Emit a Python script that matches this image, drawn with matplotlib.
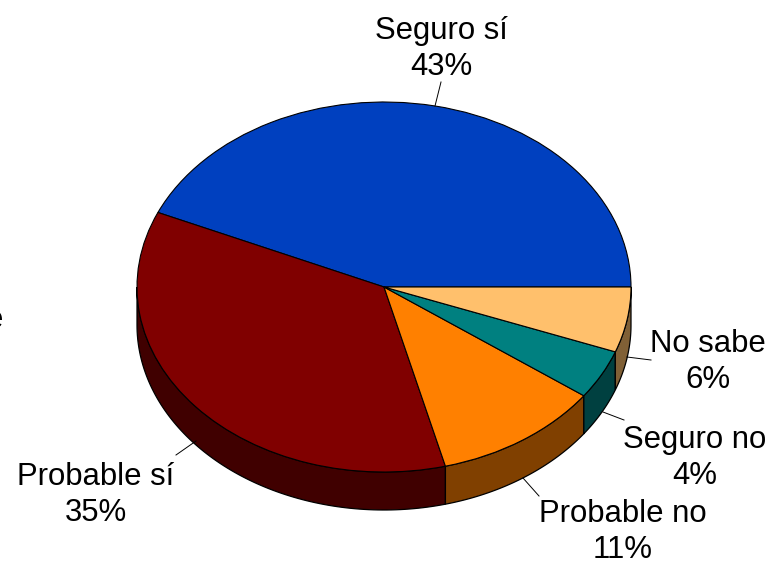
import numpy as np
import matplotlib
matplotlib.use("Agg")
import matplotlib.pyplot as plt
from matplotlib.colors import to_rgb

plt.rcParams['font.family'] = ['Liberation Sans', 'DejaVu Sans']

categories = ["Seguro sí", "Probable sí", "Probable no", "Seguro no", "No sabe"]
values = [43.4, 35.6, 11.0, 4.3, 5.7]
percent_labels = ["43%", "35%", "11%", "4%", "6%"]
colors = ["#0040BF", "#800000", "#FF8000", "#008080", "#FFC06C"]

# where the labels and leader lines sit, in image pixels
label_pos = [(441, 49), (96, 495), (623, 532), (695, 458), (708, 362)]
leaders = [((435, 106), (441, 82)), ((196, 441), (176, 455)), ((523, 478), (539, 496)),
           ((603, 412), (624, 420)), ((627, 357), (651, 360))]

W, H = 772, 564
CX, CY, RX, RY = 384, 287, 247, 185
DEPTH = 38 / RY


def px(x, y):
    return (x - CX) / RX, (CY - y) / RY


fig = plt.figure(figsize=(W / 100, H / 100), dpi=100)
ax = fig.add_axes([0, 0, 1, 1])

# side wall first, only the front half of the pie shows it
angles = np.concatenate([[0], np.cumsum(values) / np.sum(values) * 360])
for i in range(len(values)):
    a1, a2 = max(angles[i], 180), min(angles[i + 1], 360)
    if a2 <= a1:
        continue
    t = np.radians(np.linspace(a1, a2, 100))
    xs = np.concatenate([np.cos(t), np.cos(t[::-1])])
    ys = np.concatenate([np.sin(t), np.sin(t[::-1]) - DEPTH])
    dark = tuple(c * 0.5 for c in to_rgb(colors[i]))
    ax.fill(xs, ys, facecolor=dark, edgecolor="black", linewidth=0.9, zorder=1)

ax.pie(values, colors=colors, startangle=0, counterclock=True, radius=1,
       wedgeprops={"edgecolor": "black", "linewidth": 0.8, "zorder": 2})

# pie() forces a round pie, the ellipse comes from undoing that
ax.set_aspect("auto")
ax.set_xlim(px(0, 0)[0], px(W, 0)[0])
ax.set_ylim(px(0, H)[1], px(0, 0)[1])
ax.axis("off")

for i in range(len(categories)):
    x, y = px(*label_pos[i])
    ax.text(x, y, categories[i] + "\n" + percent_labels[i], ha="center", va="center",
            fontsize=22.4, color="black", linespacing=1.22, zorder=4)
    p0, p1 = px(*leaders[i][0]), px(*leaders[i][1])
    ax.plot([p0[0], p1[0]], [p0[1], p1[1]], color="black", linewidth=0.7, zorder=3)

# piece of a label cut off by the left edge in the original
x, y = px(3, 320)
ax.text(x, y, "e", ha="right", va="center", fontsize=22.4, color="black")

fig.savefig("out.png", dpi=100)
